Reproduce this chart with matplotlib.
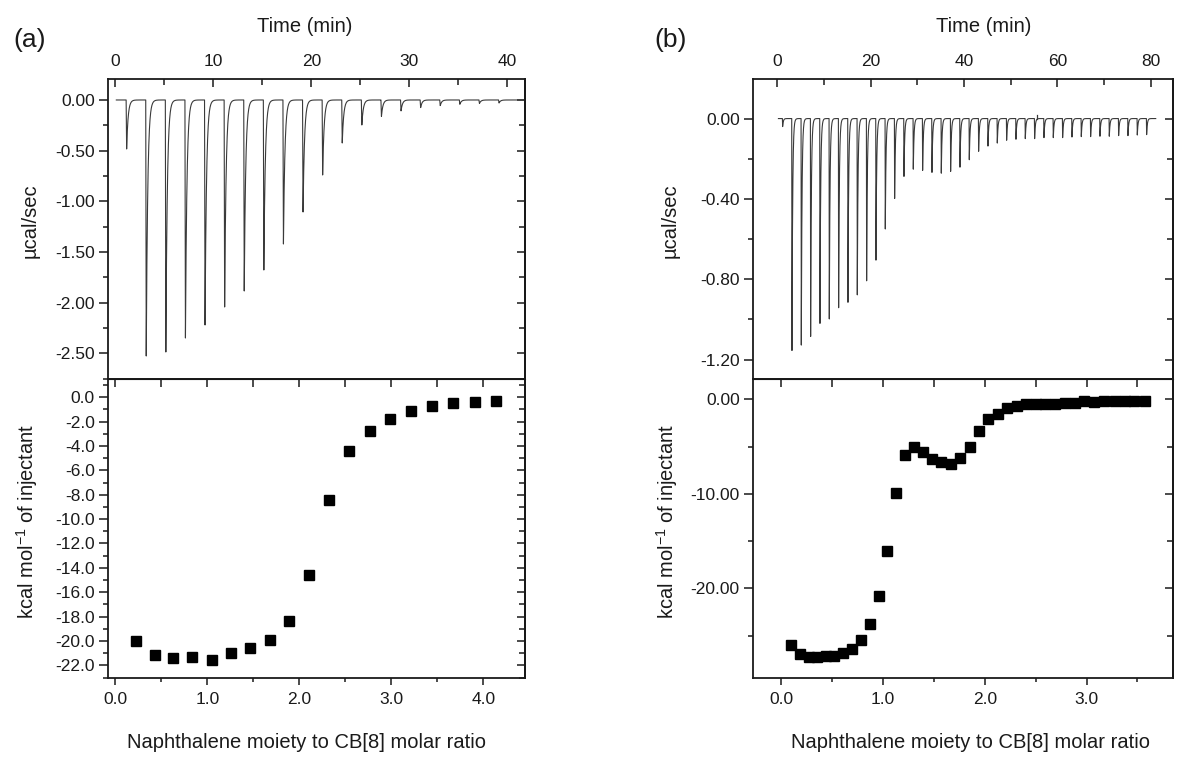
import numpy as np
import matplotlib
matplotlib.use('Agg')
import matplotlib.pyplot as plt
from matplotlib.ticker import MultipleLocator, FormatStrFormatter

plt.rcParams['font.family'] = ['Liberation Sans', 'DejaVu Sans']
plt.rcParams['axes.unicode_minus'] = False
plt.rcParams['mathtext.fontset'] = 'custom'
plt.rcParams['mathtext.rm'] = 'Liberation Sans'
plt.rcParams['mathtext.default'] = 'rm'

# (a) raw ITC trace: injection times (min) and peak minima (ucal/sec)
a_inj_time = [1.1, 3.1, 5.1, 7.1, 9.1, 11.1, 13.1, 15.1, 17.1, 19.1,
              21.1, 23.1, 25.1, 27.1, 29.1, 31.1, 33.1, 35.1, 37.1, 39.1]
a_inj_peak = [-0.49, -2.56, -2.52, -2.38, -2.25, -2.07, -1.91, -1.70, -1.44, -1.12,
              -0.75, -0.43, -0.25, -0.164, -0.109, -0.076, -0.056, -0.043, -0.035, -0.03]

# (a) integrated heats
a_ratio = [0.229, 0.433, 0.630, 0.834, 1.047, 1.252, 1.464, 1.677, 1.890, 2.106,
           2.323, 2.544, 2.768, 2.989, 3.214, 3.446, 3.675, 3.908, 4.140]
a_heat = [-19.98, -21.18, -21.43, -21.34, -21.59, -20.99, -20.58, -19.90, -18.34, -14.59,
          -8.39, -4.37, -2.73, -1.80, -1.09, -0.68, -0.46, -0.38, -0.30]

# (b) raw ITC trace
b_inj_time = [1.1, 3.1, 5.1, 7.1, 9.1, 11.1, 13.1, 15.1, 17.1, 19.1,
              21.1, 23.1, 25.1, 27.1, 29.1, 31.1, 33.1, 35.1, 37.1, 39.1,
              41.1, 43.1, 45.1, 47.1, 49.1, 51.1, 53.1, 55.1, 57.1, 59.1,
              61.1, 63.1, 65.1, 67.1, 69.1, 71.1, 73.1, 75.1, 77.1, 79.1]
b_inj_peak = [-0.04, -1.155, -1.128, -1.085, -1.02, -0.998, -0.942, -0.915, -0.878, -0.808,
              -0.705, -0.55, -0.398, -0.288, -0.252, -0.258, -0.268, -0.272, -0.263, -0.242,
              -0.205, -0.163, -0.137, -0.122, -0.108, -0.103, -0.10, -0.10, -0.095, -0.095,
              -0.095, -0.092, -0.09, -0.09, -0.088, -0.088, -0.085, -0.085, -0.082, -0.08]
b_spike_time = [55.6]
b_spike_height = [0.02]

# (b) integrated heats
b_ratio = [0.092, 0.184, 0.266, 0.352, 0.434, 0.520, 0.605, 0.694, 0.782, 0.867,
           0.955, 1.040, 1.125, 1.214, 1.305, 1.395, 1.485, 1.573, 1.666, 1.757,
           1.849, 1.941, 2.033, 2.128, 2.219, 2.314, 2.406, 2.501, 2.596, 2.691,
           2.790, 2.885, 2.976, 3.075, 3.176, 3.276, 3.375, 3.470, 3.570]
b_heat = [-25.99, -26.97, -27.20, -27.30, -27.15, -27.10, -26.80, -26.40, -25.40, -23.77,
          -20.80, -16.00, -9.96, -5.92, -5.04, -5.55, -6.32, -6.67, -6.84, -6.25,
          -5.09, -3.33, -2.04, -1.61, -0.95, -0.67, -0.46, -0.46, -0.46, -0.46,
          -0.35, -0.35, -0.18, -0.28, -0.18, -0.18, -0.18, -0.18, -0.18]


def itc_trace(t_start, t_end, inj_time, inj_peak, tau):
    # thermogram drawn from the peak list: fast drop, exponential return
    t = np.arange(t_start, t_end, 0.004)
    y = np.zeros_like(t)
    for t0, d in zip(inj_time, inj_peak):
        drop = (t >= t0) & (t < t0 + 0.05)
        y[drop] += d * (t[drop] - t0) / 0.05
        back = t >= t0 + 0.05
        y[back] += d * np.exp(-(t[back] - t0 - 0.05) / tau)
    return t, y


W, H = 1177, 765
fig = plt.figure(figsize=(W / 100, H / 100), dpi=100)
TXT = '#1a1a1a'
TICK_FS = 12.5
LAB_FS = 14.5


def px_axes(x0, x1, y0, y1):
    return fig.add_axes([x0 / W, 1 - y1 / H, (x1 - x0) / W, (y1 - y0) / H])


def right_ticks(ax, ymaj, ymin):
    sec = ax.secondary_yaxis('right')
    sec.yaxis.set_major_locator(MultipleLocator(ymaj))
    sec.yaxis.set_minor_locator(MultipleLocator(ymin))
    sec.tick_params(which='both', direction='in', labelright=False, width=1.1, color=TXT)
    sec.tick_params(which='major', length=5.5)
    sec.tick_params(which='minor', length=4)
    sec.spines['right'].set_linewidth(1.3)
    return sec


def common(ax, ymaj, ymin, yfmt):
    for s in ax.spines.values():
        s.set_linewidth(1.3)
        s.set_color(TXT)
    ax.yaxis.set_major_locator(MultipleLocator(ymaj))
    ax.yaxis.set_minor_locator(MultipleLocator(ymin))
    ax.yaxis.set_major_formatter(FormatStrFormatter(yfmt))
    ax.tick_params(axis='y', which='both', direction='out', right=False,
                   labelsize=TICK_FS, labelcolor=TXT, color=TXT, width=1.1, pad=3)
    ax.tick_params(axis='y', which='major', length=6.5)
    ax.tick_params(axis='y', which='minor', length=3.5)
    right_ticks(ax, ymaj, ymin)


def style_top(ax, xmaj, xmin, ymaj, ymin, yfmt, xlab_x, ylab_x, ylab_y):
    common(ax, ymaj, ymin, yfmt)
    ax.xaxis.tick_top()
    ax.xaxis.set_label_position('top')
    ax.xaxis.set_major_locator(MultipleLocator(xmaj))
    ax.xaxis.set_minor_locator(MultipleLocator(xmin))
    ax.tick_params(axis='x', which='both', direction='in', top=True, bottom=False,
                   labeltop=True, labelbottom=False, labelsize=TICK_FS, labelcolor=TXT,
                   color=TXT, width=1.1, pad=7)
    ax.tick_params(axis='x', which='major', length=5.5)
    ax.tick_params(axis='x', which='minor', length=4)
    ax.set_xlabel('Time (min)', fontsize=LAB_FS, color=TXT)
    ax.xaxis.set_label_coords(xlab_x, 1.157)
    ax.set_ylabel('µcal/sec', fontsize=LAB_FS, color=TXT)
    ax.yaxis.set_label_coords(ylab_x, ylab_y)


def style_bottom(ax, xmaj, xmin, ymaj, ymin, yfmt, xlab_x, ylab_x, ylab_y):
    common(ax, ymaj, ymin, yfmt)
    ax.xaxis.set_major_locator(MultipleLocator(xmaj))
    ax.xaxis.set_minor_locator(MultipleLocator(xmin))
    ax.xaxis.set_major_formatter(FormatStrFormatter('%.1f'))
    ax.tick_params(axis='x', which='both', direction='out', top=False,
                   labelsize=TICK_FS, labelcolor=TXT, color=TXT, width=1.1, pad=5)
    ax.tick_params(axis='x', which='major', length=5)
    ax.tick_params(axis='x', which='minor', length=3)
    sec = ax.secondary_xaxis('top')
    sec.xaxis.set_major_locator(MultipleLocator(xmaj))
    sec.xaxis.set_minor_locator(MultipleLocator(xmin))
    sec.tick_params(which='both', direction='in', labeltop=False, width=1.1, color=TXT)
    sec.tick_params(which='major', length=6)
    sec.tick_params(which='minor', length=6)
    ax.set_xlabel('Naphthalene moiety to CB[8] molar ratio', fontsize=LAB_FS, color=TXT)
    ax.xaxis.set_label_coords(xlab_x, -0.183)
    ax.set_ylabel(r'kcal mol$^{-1}$ of injectant', fontsize=LAB_FS, color=TXT)
    ax.yaxis.set_label_coords(ylab_x, ylab_y)


# ---------- panel (a) ----------
ax1 = px_axes(108, 525, 79, 379)
t, y = itc_trace(0.1, 41.8, a_inj_time, a_inj_peak, 0.15)
ax1.plot(t, y, color='#3a3a3a', lw=0.8)
ax1.set_xlim(-0.75, 41.8)
ax1.set_ylim(-2.753, 0.207)
style_top(ax1, 10, 5, 0.5, 0.25, '%.2f', 0.472, -0.163, 0.527)

ax2 = px_axes(108, 525, 379, 678)
ax2.plot(a_ratio, a_heat, 's', color='black', markersize=7)
ax2.set_xlim(-0.08, 4.453)
ax2.set_ylim(-23.04, 1.5)
style_bottom(ax2, 1.0, 0.5, 2.0, 1.0, '%.1f', 0.476, -0.163, 0.523)

# ---------- panel (b) ----------
ax3 = px_axes(753, 1173, 79, 379)
t, y = itc_trace(0.25, 81.1, b_inj_time, b_inj_peak, 0.15)
ax3.plot(t, y, color='#3a3a3a', lw=0.8)
for ts, hs in zip(b_spike_time, b_spike_height):
    ax3.plot([ts, ts], [0, hs], color='#3a3a3a', lw=0.9)
ax3.set_xlim(-5.2, 84.8)
ax3.set_ylim(-1.297, 0.197)
style_top(ax3, 20, 10, 0.4, 0.2, '%.2f', 0.55, -0.174, 0.527)

ax4 = px_axes(753, 1173, 379, 678)
ax4.plot(b_ratio, b_heat, 's', color='black', markersize=6.5)
ax4.set_xlim(-0.28, 3.85)
ax4.set_ylim(-29.47, 2.14)
style_bottom(ax4, 1.0, 0.5, 10.0, 5.0, '%.2f', 0.517, -0.174, 0.523)

fig.text(29.5 / W, 1 - 40 / H, '(a)', fontsize=19, color=TXT, ha='center', va='center')
fig.text(671 / W, 1 - 40 / H, '(b)', fontsize=19, color=TXT, ha='center', va='center')

fig.savefig('out.png', dpi=100)
